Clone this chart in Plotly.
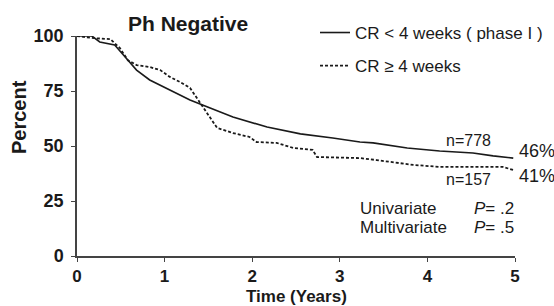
import plotly.graph_objects as go

# Solid curve: CR < 4 weeks (phase I)
t_early = [0, 0.17, 0.26, 0.43, 0.53, 0.68, 0.83, 1.06, 1.29, 1.52, 1.78, 2.17,
           2.55, 2.92, 3.23, 3.38, 3.77, 4.14, 4.52, 4.75, 4.98]
s_early = [100, 100, 97.3, 95.9, 91.4, 84.5, 80, 75.5, 70.9, 67.3, 63.2, 58.6,
           55.5, 53.6, 51.8, 51.4, 49.1, 47.7, 46.8, 45.5, 44.5]

# Dotted curve: CR >= 4 weeks
t_late = [0, 0.2, 0.38, 0.43, 0.49, 0.58, 0.68, 0.83, 0.95, 1.06, 1.18, 1.29, 1.40,
          1.48, 1.60, 1.78, 1.97, 2.05, 2.28, 2.47, 2.69, 2.74, 3.23, 3.42, 3.84,
          4.14, 4.86, 4.98]
s_late = [100, 99, 98.6, 96.8, 94.5, 89, 86.8, 85.9, 84.5, 81.4, 79, 76.4, 70,
          65, 58.2, 55.9, 54.1, 51.8, 51.4, 49.1, 48.2, 45, 44.5, 43.6, 41.4,
          40.5, 40.5, 39.1]

x_ticks = [0, 1, 2, 3, 4, 5]
y_ticks = [0, 25, 50, 75, 100]

ink = "#1a1a1a"
axis_col = "#444444"
FONT = "Liberation Sans, Arial, sans-serif"

fig = go.Figure()
fig.add_trace(go.Scatter(x=t_early, y=s_early, mode="lines",
                         name="CR < 4 weeks ( phase I )", legendgroup="a",
                         line=dict(color=ink, width=1.6)))
fig.add_trace(go.Scatter(x=t_late, y=s_late, mode="lines",
                         name="CR ≥ 4 weeks", legendgroup="b",
                         line=dict(color=ink, width=1.8, dash="3px,2px")))

fig.update_layout(
    width=554, height=306,
    margin=dict(l=77, r=39, t=36, b=50, autoexpand=False),
    paper_bgcolor="white", plot_bgcolor="white",
    font=dict(family=FONT, color=ink),
    showlegend=True,
    legend=dict(x=0.5434, y=1.0956, xanchor="left", yanchor="top",
                font=dict(size=17, color=ink), bgcolor="rgba(0,0,0,0)",
                tracegroupgap=8, traceorder="grouped"),
    xaxis=dict(range=[0, 5], tickvals=x_ticks, ticktext=[str(v) for v in x_ticks],
               showgrid=False, zeroline=False, showline=True,
               linecolor=axis_col, linewidth=1.5,
               ticks="outside", ticklen=4, tickcolor=axis_col, tickwidth=1.2,
               tickfont=dict(size=17, weight="bold", color=ink)),
    yaxis=dict(range=[0, 100], tickvals=y_ticks, ticktext=[str(v) for v in y_ticks],
               showgrid=False, zeroline=False, showline=True,
               linecolor=axis_col, linewidth=1.5,
               ticks="outside", ticklen=4, tickcolor=axis_col, tickwidth=1.2,
               ticklabelstandoff=4,
               tickfont=dict(size=18, weight="bold", color=ink)),
)

ann = [
    dict(text="<b>Ph Negative</b>", x=0.254, y=1 + (36 - 23) / 220, xref="paper",
         yref="paper", xanchor="center", yanchor="middle",
         font=dict(size=21), showarrow=False),
    dict(text="<b>Percent</b>", x=(19 - 77) / 438, y=(256 - 117) / 220, xref="paper",
         yref="paper", xanchor="center", yanchor="middle",
         textangle=-90, font=dict(size=20), showarrow=False),
    dict(text="<b>Time (Years)</b>", x=0.5, y=(256 - 296.5) / 220, xref="paper",
         yref="paper", xanchor="center", yanchor="middle",
         font=dict(size=17), showarrow=False),
    dict(text="n=778", x=4.47, y=52.3, font=dict(size=16), showarrow=False),
    dict(text="n=157", x=4.47, y=35, font=dict(size=16), showarrow=False),
    dict(text="46%", x=1.0046, y=47.7, xref="paper", xanchor="left",
         yanchor="middle", font=dict(size=18), showarrow=False),
    dict(text="41%", x=1.0046, y=36.4, xref="paper", xanchor="left",
         yanchor="middle", font=dict(size=18), showarrow=False),
    dict(text="Univariate", x=3.21, y=21.8, xanchor="left", font=dict(size=17), showarrow=False),
    dict(text="Multivariate", x=3.21, y=12.9, xanchor="left", font=dict(size=17), showarrow=False),
    dict(text="<i>P</i>= .2", x=4.51, y=21.8, xanchor="left", font=dict(size=17), showarrow=False),
    dict(text="<i>P</i>= .5", x=4.51, y=12.9, xanchor="left", font=dict(size=17), showarrow=False),
]
for a in ann:
    fig.add_annotation(**a)

fig.write_html("out.html", config={"displayModeBar": False},
               post_script="document.body.style.margin='0';")
